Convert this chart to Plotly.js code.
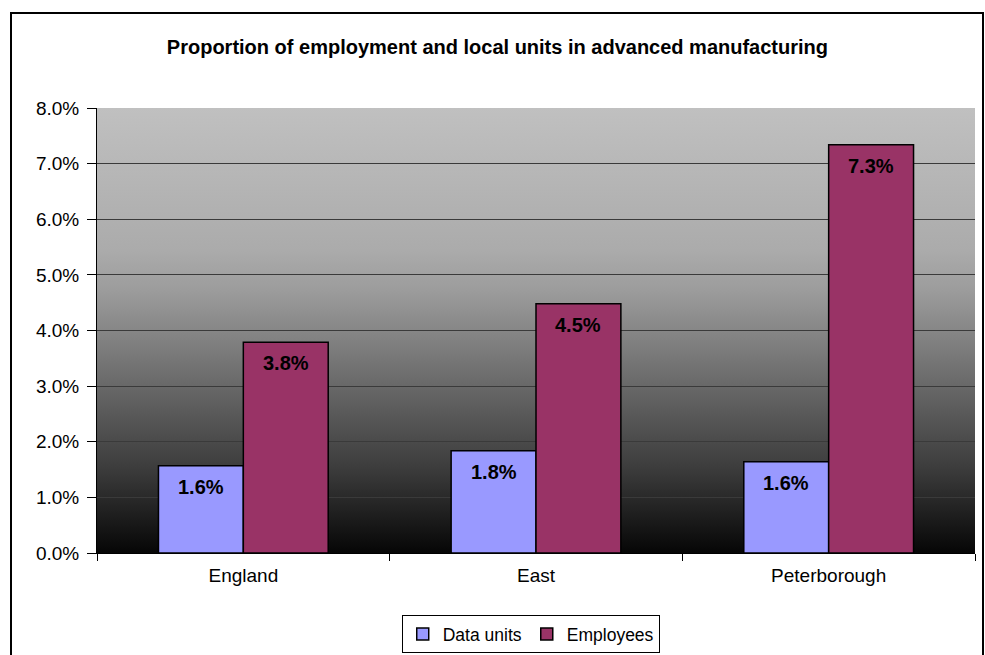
<!DOCTYPE html>
<html>
<head>
<meta charset="utf-8">
<script src="https://cdn.plot.ly/plotly-3.0.1.min.js"></script>
<style>
  html, body { margin: 0; padding: 0; background: #ffffff; }
  #frame { position: absolute; left: 10px; top: 12px; width: 974px; height: 700px; border: 2px solid #000; box-sizing: border-box; }
  #chart { position: absolute; left: 0; top: 0; width: 985px; height: 655px; }
</style>
</head>
<body>
<div id="frame"></div>
<div id="chart"></div>
<script>
const categories = ["England", "East", "Peterborough"];
const dataUnits = [0.0157, 0.0184, 0.0164];
const employees = [0.0379, 0.0448, 0.0734];
const seriesNames = ["Data units", "Employees"];
const yTickVals = [0, 0.01, 0.02, 0.03, 0.04, 0.05, 0.06, 0.07, 0.08];
const titleText = "Proportion of employment and local units in advanced manufacturing";

const FONT = "Liberation Sans, Arial, sans-serif";
const colors = ["#9999FF", "#993366"];
const bargap = 0.42;

const gradSvg = '<svg xmlns="http://www.w3.org/2000/svg" width="100" height="100" preserveAspectRatio="none">' +
  '<defs><linearGradient id="g" x1="0" y1="0" x2="0" y2="1">' +
  '<stop offset="0" stop-color="#c0c0c0"/>' +
  '<stop offset="0.32" stop-color="#ababab"/>' +
  '<stop offset="0.41" stop-color="#9c9c9c"/>' +
  '<stop offset="0.6" stop-color="#6e6e6e"/>' +
  '<stop offset="0.81" stop-color="#3c3c3c"/>' +
  '<stop offset="1" stop-color="#060606"/>' +
  '</linearGradient></defs><rect width="100" height="100" fill="url(#g)"/></svg>';
const gradUri = "data:image/svg+xml;base64," + btoa(gradSvg);

const traces = [dataUnits, employees].map((vals, i) => ({
  type: "bar",
  name: seriesNames[i],
  x: categories,
  y: vals,
  marker: { color: colors[i], line: { color: "#000", width: 1.5 } },
  hoverinfo: "none"
}));

// labels inside top of each bar
const barW = (1 - bargap) / 2;
const annotations = [];
[dataUnits, employees].forEach((vals, s) => {
  vals.forEach((v, k) => {
    annotations.push({
      x: k + (s === 0 ? -barW / 2 : barW / 2),
      y: v,
      xref: "x", yref: "y",
      text: (v * 100).toFixed(1) + "%",
      showarrow: false,
      yanchor: "top",
      yshift: -8,
      font: { family: FONT, size: 20, color: "#000", weight: "bold" }
    });
  });
});

const layout = {
  width: 985, height: 655,
  margin: { l: 97, r: 10, t: 108, b: 102, autoexpand: false },
  paper_bgcolor: "rgba(0,0,0,0)",
  plot_bgcolor: "rgba(0,0,0,0)",
  font: { family: FONT, color: "#000" },
  title: {
    text: "<b>" + titleText + "</b>",
    x: 0.505, xanchor: "center",
    y: 0.928, yanchor: "middle",
    font: { family: FONT, size: 20, color: "#000" }
  },
  barmode: "group",
  bargap: bargap,
  bargroupgap: 0,
  showlegend: true,
  legend: {
    orientation: "h",
    xref: "paper", x: 0.494, xanchor: "center",
    yref: "container", y: 0.003, yanchor: "bottom",
    bgcolor: "#fff",
    bordercolor: "#000",
    borderwidth: 1,
    font: { family: FONT, size: 17.5, color: "#000" },
    itemwidth: 30,
    traceorder: "normal"
  },
  xaxis: {
    type: "category",
    showline: true, linecolor: "#000", linewidth: 1,
    ticks: "outside", tickson: "boundaries", ticklen: 7, tickcolor: "#000",
    showgrid: false,
    tickfont: { family: FONT, size: 19, color: "#000" },
    ticklabelstandoff: 5,
    automargin: false,
    fixedrange: true
  },
  yaxis: {
    range: [0, 0.08],
    tickvals: yTickVals,
    tickformat: ".1%",
    showline: true, linecolor: "#000", linewidth: 1,
    ticks: "outside", ticklen: 9, tickcolor: "#000",
    showgrid: true, gridcolor: "#3a3a3a", gridwidth: 1,
    zeroline: false,
    tickfont: { family: FONT, size: 19, color: "#000" },
    ticklabelstandoff: 4,
    automargin: false,
    fixedrange: true
  },
  images: [{
    source: gradUri,
    xref: "x domain", yref: "y domain",
    x: 0, y: 1, sizex: 1, sizey: 1,
    xanchor: "left", yanchor: "top",
    sizing: "stretch", layer: "below"
  }],
  annotations: annotations
};

Plotly.newPlot("chart", traces, layout, { staticPlot: true, displayModeBar: false });
</script>
</body>
</html>
